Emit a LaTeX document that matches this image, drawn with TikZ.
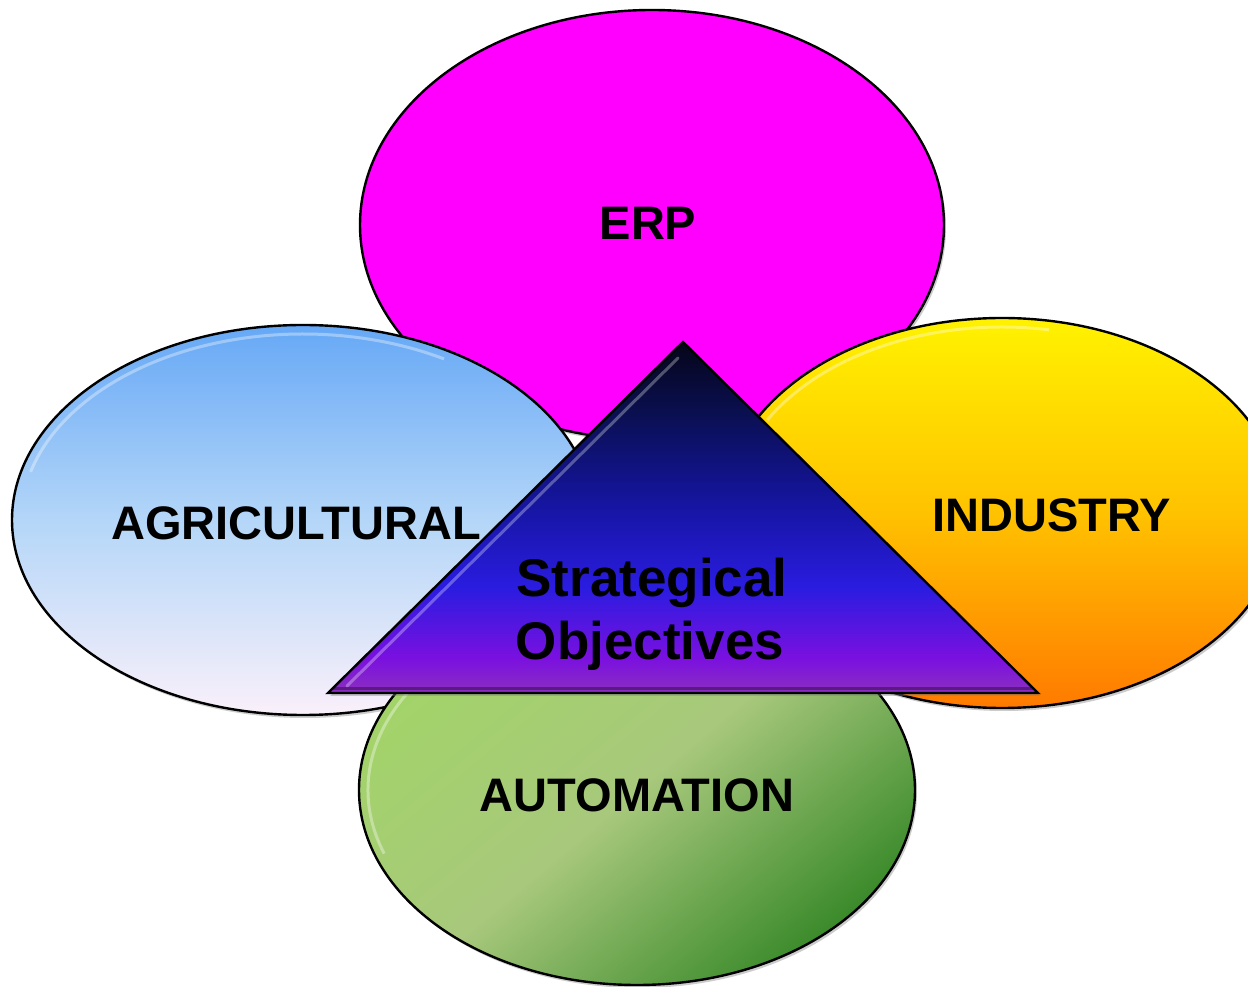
\documentclass[tikz,border=0pt]{standalone}
\usepackage{fontspec}
\setmainfont{Liberation Sans}
\usetikzlibrary{shadows,shadings}
\definecolor{erpc}{HTML}{FF00FF}
\definecolor{agtop}{HTML}{66A8F6}
\definecolor{agmid}{HTML}{B4D6F8}
\definecolor{agbot}{HTML}{FAF0FA}
\definecolor{intop}{HTML}{FFF200}
\definecolor{inmid}{HTML}{FFC200}
\definecolor{inbot}{HTML}{FF7A00}
\definecolor{autl}{HTML}{A2D468}
\definecolor{autm}{HTML}{A8C87C}
\definecolor{autd}{HTML}{3A8A2A}
\definecolor{tri0}{HTML}{8B2FC0}
\definecolor{tri1}{HTML}{7A10E0}
\definecolor{tri2}{HTML}{2A1CE0}
\definecolor{tri3}{HTML}{1515A0}
\definecolor{tri4}{HTML}{0A0F50}
\definecolor{tri5}{HTML}{050518}
\pgfdeclareverticalshading{trishade}{100bp}{color(0bp)=(tri0); color(25bp)=(tri0); color(30bp)=(tri1); color(40bp)=(tri2); color(52bp)=(tri3); color(65bp)=(tri4); color(75bp)=(tri5); color(100bp)=(tri5)}
\tikzset{
  blob/.style={draw=black, line width=2.4pt, drop shadow={opacity=0.4, shadow xshift=2pt, shadow yshift=-3pt}},
  gloss/.style={draw=white, opacity=0.35, line width=3pt},
  lbl/.style={font=\bfseries\fontsize{47}{56}\selectfont, anchor=base, inner sep=0pt},
  core/.style={font=\bfseries\fontsize{53}{63}\selectfont, anchor=base, inner sep=0pt}
}
\begin{document}
\begin{tikzpicture}[x=1pt,y=1pt]
\useasboundingbox (0,0) rectangle (1248,986);
\clip (0,0) rectangle (1248,986);
% ERP
\path[blob, fill=erpc] (652,761) ellipse [x radius=292, y radius=215];
% Agricultural
\path[blob, top color=agtop, bottom color=agbot, middle color=agmid] (303,466) ellipse [x radius=291, y radius=195];
\draw[gloss] (303,466) ++(165:282 and 186) arc [start angle=165, end angle=60, x radius=282, y radius=186];
% Industry
\path[blob, top color=intop, bottom color=inbot, middle color=inmid] (1002,473) ellipse [x radius=280, y radius=195];
\draw[gloss] (1002,473) ++(150:271 and 186) arc [start angle=150, end angle=80, x radius=271, y radius=186];
% Automation
\path[blob, top color=autl, bottom color=autd, middle color=autm, shading angle=40] (637,196) ellipse [x radius=278, y radius=195];
\draw[gloss] (637,196) ++(200:269 and 186) arc [start angle=200, end angle=120, x radius=269, y radius=186];
% Triangle
\coordinate (ta) at (683,644);
\coordinate (tl) at (328,293);
\coordinate (tr) at (1038,293);
\path[draw=black, line width=2.4pt, line join=miter, shading=trishade, drop shadow={opacity=0.4, shadow xshift=2pt, shadow yshift=-3pt}] (ta) -- (tr) -- (tl) -- cycle;
\draw[white, opacity=0.3, line width=3pt, line cap=round] (678,628) -- (347,300);
\draw[black, opacity=0.35, line width=3pt] (332,297) -- (1033,297);
% Labels
\node[lbl] (erp) at (648,746) {ERP};
\node[lbl] (agr) at (296,446) {AGRICULTURAL};
\node[lbl] (ind) at (1052,454) {INDUSTRY};
\node[lbl] (aut) at (637,174) {AUTOMATION};
\node[core] (s1) at (652,389) {Strategical};
\node[core] (s2) at (650,326) {Objectives};
\end{tikzpicture}
\end{document}
